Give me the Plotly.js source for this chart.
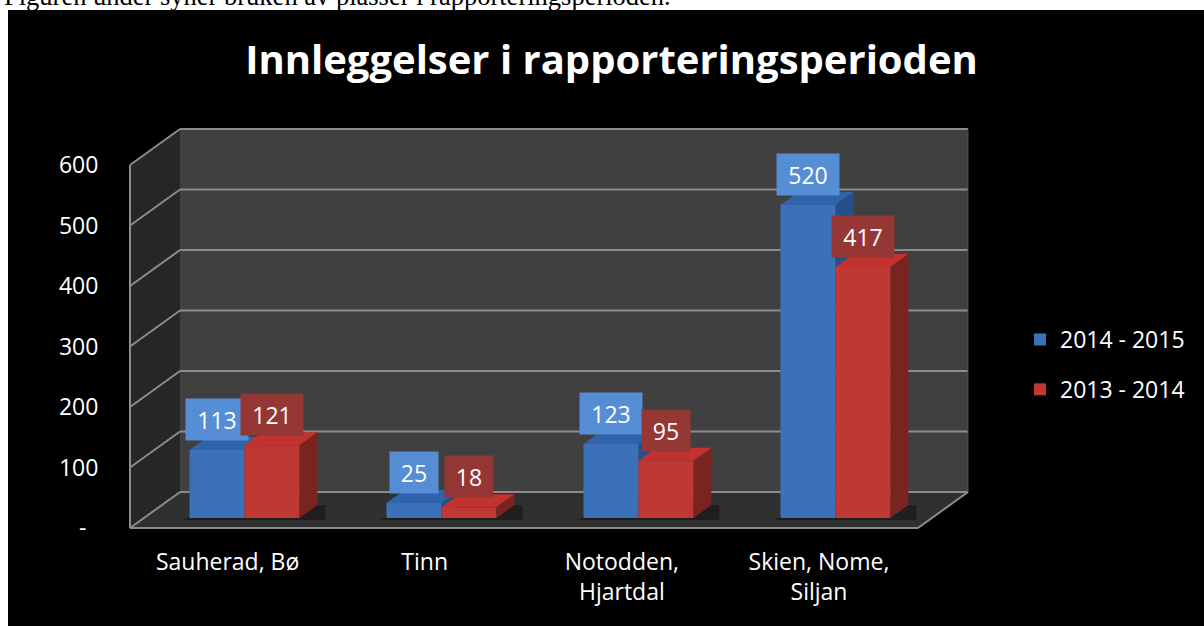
<!DOCTYPE html>
<html><head><meta charset="utf-8">
<script src="https://cdn.plot.ly/plotly-3.0.1.min.js"></script>
<style>
html,body{margin:0;padding:0;background:#fff;width:1204px;height:626px;overflow:hidden;position:relative}
#cap{position:absolute;left:4px;top:-17px;font-family:"Liberation Serif","Times New Roman",serif;font-size:26.5px;line-height:26.5px;color:#000;white-space:nowrap}
#chart{position:absolute;left:8px;top:10px;width:1196px;height:616px}
</style></head><body>
<div id="cap">Figuren under syner bruken av plasser i rapporteringsperioden.</div>
<div id="chart"></div>
<script>
// ---- data ----
const categories = ["Sauherad, Bø", "Tinn", "Notodden,<br>Hjartdal", "Skien, Nome,<br>Siljan"];
const seriesNames = ["2014 - 2015", "2013 - 2014"];
const values2014_2015 = [113, 25, 123, 520];
const values2013_2014 = [121, 18, 95, 417];
const yTickVals = [0, 100, 200, 300, 400, 500, 600];
const yTickText = ["-\u00a0\u00a0", "100", "200", "300", "400", "500", "600"];

// ---- styling / geometry ----
const FONT = "Open Sans, Lato, sans-serif";
const OX = 8, OY = 10;                   // div offset on page
const PX0 = 130, PX1 = 968, PY0 = 130, PY1 = 528; // plot area (page px)
const PW = PX1 - PX0, PH = PY1 - PY0;
const xr = [-0.495, 3.756];   // label axis
const xr2 = [-0.581, 3.673];  // bar axis
const yr = [0, 657.9];        // front plane axis
const yr2 = [-16.6, 644.5];   // bar plane axis
const depthX = 50, depthY = -36; // wall depth in px
const barDX = 18, barDY = -13;   // bar depth in px
const barW = 0.279;

const fx = X => (X - PX0) / PW;
const fy = Y => (PY1 - Y) / PH;
const X2 = v => PX0 + (v - xr2[0]) / (xr2[1] - xr2[0]) * PW;
const Y2 = v => PY1 - (v - yr2[0]) / (yr2[1] - yr2[0]) * PH;
const YF = v => PY1 - (v - yr[0]) / (yr[1] - yr[0]) * PH;

function path(pts){
  return pts.map((p,i)=>(i?'L':'M')+fx(p[0]).toFixed(5)+','+fy(p[1]).toFixed(5)).join(' ')+' Z';
}
function line(a,b,color,w,layer){
  return {type:'line',xref:'paper',yref:'paper',x0:fx(a[0]),y0:fy(a[1]),x1:fx(b[0]),y1:fy(b[1]),
    line:{color:color,width:w},layer:layer||'below'};
}
function poly(pts,fill,layer){
  return {type:'path',xref:'paper',yref:'paper',path:path(pts),fillcolor:fill,line:{width:0},layer:layer||'below'};
}

const shapes = [];
const fy0 = YF(0), fyTop = YF(yTickVals[yTickVals.length-1]);
const bx0 = PX0 + depthX, bx1 = PX1;
// walls + floor
shapes.push(poly([[bx0, fyTop+depthY],[bx1, fyTop+depthY],[bx1, fy0+depthY],[bx0, fy0+depthY]], '#404040'));
shapes.push(poly([[PX0, fyTop],[bx0, fyTop+depthY],[bx0, fy0+depthY],[PX0, fy0]], '#262626'));
shapes.push(poly([[PX0, fy0],[bx0, fy0+depthY],[bx1, fy0+depthY],[bx1-depthX, fy0]], '#303030'));
// gridlines
const GC = '#8c8c8c';
yTickVals.forEach(v=>{
  const yf = YF(v);
  shapes.push(line([bx0, yf+depthY],[bx1, yf+depthY], GC, 2));
  shapes.push(line([PX0, yf],[bx0, yf+depthY], GC, 2));
});
shapes.push(line([PX0, fyTop],[PX0, fy0], GC, 2));
shapes.push(line([PX0, fy0],[bx1-depthX, fy0], GC, 2));
shapes.push(line([bx1-depthX, fy0],[bx1, fy0+depthY], GC, 2));
shapes.push(line([bx1, fyTop+depthY],[bx1, fy0+depthY], '#505050', 1));

// bar shadows + 3D sides and tops
const series = [
  {vals: values2014_2015, front:'#3A71B9', side:'#27508A', top:'#3063AA', box:'#558ED5', off:-barW/2},
  {vals: values2013_2014, front:'#BE3834', side:'#7A2422', top:'#C2322E', box:'#953735', off: barW/2}
];
categories.forEach((c,i)=>{
  const xl = X2(i - barW), xr_ = X2(i + barW);
  shapes.push(poly([[xl-6, Y2(0)+2],[xr_+barDX+8, Y2(0)+2],[xr_+barDX+8, Y2(0)+barDY],[xl+barDX, Y2(0)+barDY]], 'rgba(0,0,0,0.35)', 'below'));
});
categories.forEach((c,i)=>{
  series.forEach(s=>{
    const v = s.vals[i];
    const L = X2(i + s.off - barW/2), R = X2(i + s.off + barW/2);
    const T = Y2(v), B = Y2(0);
    shapes.push(poly([[R,B],[R+barDX,B+barDY],[R+barDX,T+barDY],[R,T]], s.side, 'between'));
    shapes.push(poly([[L,T],[L+barDX,T+barDY],[R+barDX,T+barDY],[R,T]], s.top, 'between'));
  });
});

// labels
const annotations = [];
series.forEach(s=>{
  s.vals.forEach((v,i)=>{
    annotations.push({xref:'x2', yref:'y2', x:i+s.off, y:v, yanchor:'bottom', xanchor:'center',
      yshift:9, text:String(v), showarrow:false, bgcolor:s.box, borderpad:6,
      width:String(v).length*14+8, height:29,
      font:{family:FONT, size:23, color:'#ffffff'}});
  });
});

const traces = [
  {type:'scatter', mode:'markers', x:[0], y:[0], xaxis:'x', yaxis:'y', marker:{opacity:0, size:1},
   showlegend:false, hoverinfo:'skip'},
  {type:'bar', name:seriesNames[0], x:[0,1,2,3], y:values2014_2015, xaxis:'x2', yaxis:'y2',
   marker:{color:series[0].front, line:{width:0}}, legendgroup:'a', hoverinfo:'skip'},
  {type:'bar', name:seriesNames[1], x:[0,1,2,3], y:values2013_2014, xaxis:'x2', yaxis:'y2',
   marker:{color:series[1].front, line:{width:0}}, legendgroup:'b', hoverinfo:'skip'}
];

const layout = {
  width:1196, height:616,
  paper_bgcolor:'#000000', plot_bgcolor:'rgba(0,0,0,0)',
  margin:{l:PX0-OX, r:1196-(PX1-OX), t:PY0-OY, b:616-(PY1-OY)},
  title:{text:'Innleggelser i rapporteringsperioden', xref:'container', yref:'container',
    x:(611.5-OX)/1196, xanchor:'center', y:1-(60-OY)/616, yanchor:'middle',
    font:{family:FONT, size:40, weight:700, color:'#ffffff'}},
  barmode:'group', bargap:1-2*barW, bargroupgap:0,
  xaxis:{range:xr, tickmode:'array', tickvals:[0,1,2,3], ticktext:categories,
    tickfont:{family:FONT, size:23, color:'#ffffff'}, ticks:'outside', ticklen:13,
    tickcolor:'rgba(0,0,0,0)', showgrid:false, zeroline:false, showline:false, fixedrange:true},
  xaxis2:{range:xr2, overlaying:'x', anchor:'y2', visible:false, fixedrange:true},
  yaxis:{range:yr, tickmode:'array', tickvals:yTickVals, ticktext:yTickText,
    tickfont:{family:FONT, size:23, color:'#ffffff'}, ticks:'outside', ticklen:26,
    tickcolor:'rgba(0,0,0,0)', showgrid:false, zeroline:false, showline:false, fixedrange:true},
  yaxis2:{range:yr2, overlaying:'y', anchor:'x2', visible:false, fixedrange:true},
  showlegend:true,
  legend:{x:fx(1020), y:fy(318), xanchor:'left', yanchor:'top', xref:'paper', yref:'paper',
    font:{family:FONT, size:23, color:'#ffffff'}, bgcolor:'rgba(0,0,0,0)',
    traceorder:'grouped', tracegroupgap:17},
  shapes:shapes, annotations:annotations
};
Plotly.newPlot('chart', traces, layout, {displayModeBar:false, staticPlot:true});
</script>
</body></html>
